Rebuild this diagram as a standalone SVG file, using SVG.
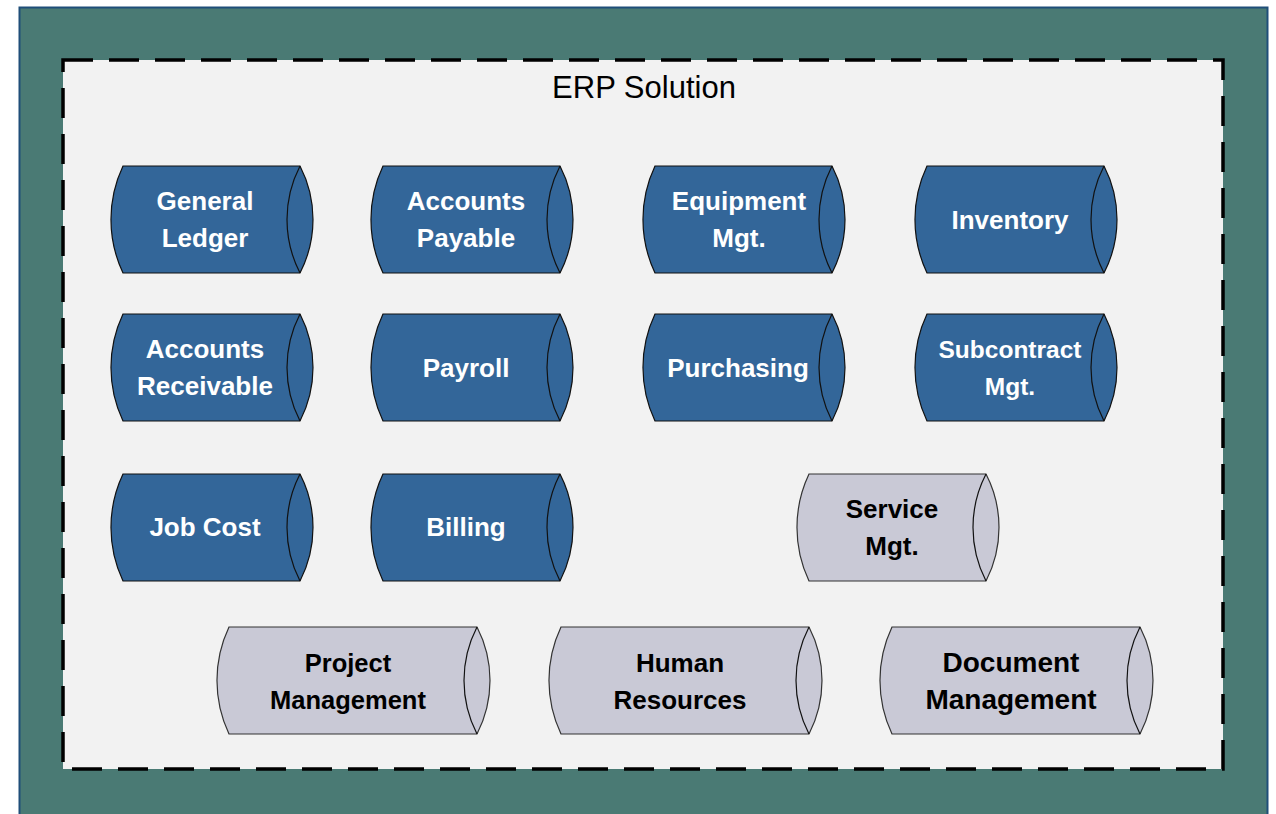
<svg xmlns="http://www.w3.org/2000/svg" xmlns:xlink="http://www.w3.org/1999/xlink" width="1276" height="814" viewBox="0 0 1276 814">
<style>
.outer{fill:#4a7a74;stroke:#1f4e79;stroke-width:2}
.frame{fill:#f2f2f2;stroke:#000;stroke-width:3.5;stroke-dasharray:30 16}
.title{font-family:"Liberation Sans",Arial,sans-serif;font-size:31px;fill:#000;text-anchor:middle}
.blue .body{fill:#336699;stroke:#111;stroke-width:1.2}
.grey .body{fill:#c9c9d6;stroke:#333;stroke-width:1.2}
.cap{fill:none;stroke:#111;stroke-width:1.2}
.lbl{font-family:"Liberation Sans",Arial,sans-serif;font-weight:bold;font-size:26px;text-anchor:middle}
.blue .lbl{fill:#fff}
.grey .lbl{fill:#000}
</style>
<defs>
<path id="cylS" d="M12,0 H189 A116.6,116.6 0 0 1 189,107 H12 A125,125 0 0 1 12,0 Z"/>
<path id="capS" d="M189,0 A116.6,116.6 0 0 0 189,107"/>
<path id="cylL" d="M12,0 H260 A116.6,116.6 0 0 1 260,107 H12 A125,125 0 0 1 12,0 Z"/>
<path id="capL" d="M260,0 A116.6,116.6 0 0 0 260,107"/>
</defs>
<rect class="outer" x="19.5" y="7.5" width="1248" height="820"/>
<rect class="frame" x="63" y="60" width="1160" height="709"/>
<text class="title" x="644" y="98">ERP Solution</text>

<g id="general-ledger" class="blue" transform="translate(111,166)">
<use href="#cylS" class="body"/><use href="#capS" class="cap"/>
<text class="lbl" x="94" y="44">General</text><text class="lbl" x="94" y="81">Ledger</text></g>
<g id="accounts-payable" class="blue" transform="translate(371,166)">
<use href="#cylS" class="body"/><use href="#capS" class="cap"/>
<text class="lbl" x="95" y="44">Accounts</text><text class="lbl" x="95" y="81">Payable</text></g>
<g id="equipment-mgt" class="blue" transform="translate(643,166)">
<use href="#cylS" class="body"/><use href="#capS" class="cap"/>
<text class="lbl" x="96" y="44">Equipment</text><text class="lbl" x="96" y="81">Mgt.</text></g>
<g id="inventory" class="blue" transform="translate(915,166)">
<use href="#cylS" class="body"/><use href="#capS" class="cap"/>
<text class="lbl" x="95" y="63">Inventory</text></g>

<g id="accounts-receivable" class="blue" transform="translate(111,314)">
<use href="#cylS" class="body"/><use href="#capS" class="cap"/>
<text class="lbl" x="94" y="44">Accounts</text><text class="lbl" x="94" y="81">Receivable</text></g>
<g id="payroll" class="blue" transform="translate(371,314)">
<use href="#cylS" class="body"/><use href="#capS" class="cap"/>
<text class="lbl" x="95" y="63">Payroll</text></g>
<g id="purchasing" class="blue" transform="translate(643,314)">
<use href="#cylS" class="body"/><use href="#capS" class="cap"/>
<text class="lbl" x="95" y="63">Purchasing</text></g>
<g id="subcontract-mgt" class="blue" transform="translate(915,314)">
<use href="#cylS" class="body"/><use href="#capS" class="cap"/>
<text class="lbl" x="95" y="44" style="font-size:24.5px">Subcontract</text><text class="lbl" x="95" y="81" style="font-size:24.5px">Mgt.</text></g>

<g id="job-cost" class="blue" transform="translate(111,474)">
<use href="#cylS" class="body"/><use href="#capS" class="cap"/>
<text class="lbl" x="94" y="62">Job Cost</text></g>
<g id="billing" class="blue" transform="translate(371,474)">
<use href="#cylS" class="body"/><use href="#capS" class="cap"/>
<text class="lbl" x="95" y="62">Billing</text></g>
<g id="service-mgt" class="grey" transform="translate(797,474)">
<use href="#cylS" class="body"/><use href="#capS" class="cap"/>
<text class="lbl" x="95" y="44">Service</text><text class="lbl" x="95" y="81">Mgt.</text></g>

<g id="project-management" class="grey" transform="translate(217,627)">
<use href="#cylL" class="body"/><use href="#capL" class="cap"/>
<text class="lbl" x="131" y="45" style="font-size:25.5px">Project</text><text class="lbl" x="131" y="82" style="font-size:25.5px">Management</text></g>
<g id="human-resources" class="grey" transform="translate(549,627)">
<use href="#cylL" class="body"/><use href="#capL" class="cap"/>
<text class="lbl" x="131" y="45">Human</text><text class="lbl" x="131" y="82">Resources</text></g>
<g id="document-management" class="grey" transform="translate(880,627)">
<use href="#cylL" class="body"/><use href="#capL" class="cap"/>
<text class="lbl" x="131" y="45" style="font-size:28px">Document</text><text class="lbl" x="131" y="82" style="font-size:28px">Management</text></g>

<g id="connectors"></g>
</svg>
